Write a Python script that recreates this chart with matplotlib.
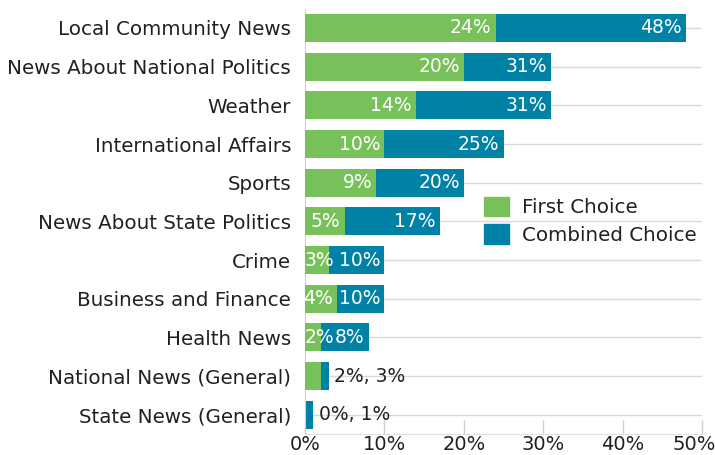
import numpy as np
import matplotlib.pyplot as plt
import matplotlib.transforms as mtransforms
from matplotlib.patches import Patch

categories = ["Local Community News", "News About National Politics", "Weather",
              "International Affairs", "Sports", "News About State Politics", "Crime",
              "Business and Finance", "Health News", "National News (General)",
              "State News (General)"]
first_choice = [24, 20, 14, 10, 9, 5, 3, 4, 2, 2, 0]
combined_choice = [48, 31, 31, 25, 20, 17, 10, 10, 8, 3, 1]

green = "#78C15A"
blue = "#0081A6"
text_col = "#231F20"

plt.rcParams['font.family'] = ['DejaVu Sans']

fig = plt.figure(figsize=(7.15, 4.55), dpi=100)
ax = fig.add_axes([0.4266, 0.046, 0.5552, 0.935])

y = np.arange(len(categories))
ax.barh(y, combined_choice, height=0.72, color=blue, zorder=2)
ax.barh(y, first_choice, height=0.72, color=green, zorder=3)

fs = 13.5
for yi, f, c in zip(y, first_choice, combined_choice):
    if c <= 3:
        ax.annotate(f"{f}%, {c}%", (c, yi), xytext=(4, 0), textcoords="offset points",
                    ha="left", va="center", color=text_col, fontsize=fs, zorder=5)
        continue
    if f <= 3:
        ax.annotate(f"{f}%", (0, yi), xytext=(0, 0), textcoords="offset points",
                    ha="left", va="center", color="white", fontsize=fs, zorder=5)
    else:
        ax.annotate(f"{f}%", (f, yi), xytext=(-3, 0), textcoords="offset points",
                    ha="right", va="center", color="white", fontsize=fs, zorder=5)
    ax.annotate(f"{c}%", (c, yi), xytext=(-3, 0), textcoords="offset points",
                ha="right", va="center", color="white", fontsize=fs, zorder=5)

ax.set_xlim(0, 50)
ax.set_ylim(len(categories) - 0.5, -0.5)
ax.set_yticks(y)
ax.set_yticklabels(categories, fontsize=14.3, color=text_col)
ax.set_xticks(np.arange(0, 51, 10))
ax.set_xticklabels([f"{v}%" for v in range(0, 51, 10)], fontsize=14, color=text_col)

ax.tick_params(axis="y", length=0, pad=10)
ax.tick_params(axis="x", direction="in", length=10, width=1, color="#d0d0d0", pad=0.5)

# keep the last tick label inside the figure
last = ax.get_xticklabels()[-1]
last.set_ha("right")
last.set_transform(last.get_transform() + mtransforms.ScaledTranslation(10 / 72, 0, fig.dpi_scale_trans))

ax.grid(axis="y", color="#d9d9d9", lw=1, zorder=0)
for s in ["top", "right"]:
    ax.spines[s].set_visible(False)
ax.spines["left"].set_color("#d0d0d0")
ax.spines["bottom"].set_color("#e0e0e0")

handles = [Patch(color=green, label="First Choice"), Patch(color=blue, label="Combined Choice")]
ax.legend(handles=handles, loc="upper left", bbox_to_anchor=(0.451, 0.557), frameon=False,
          fontsize=14.3, handlelength=1.26, handleheight=1.11, handletextpad=0.65,
          labelspacing=0.35, borderpad=0, borderaxespad=0, labelcolor=text_col)

fig.savefig("out.png", dpi=100)
